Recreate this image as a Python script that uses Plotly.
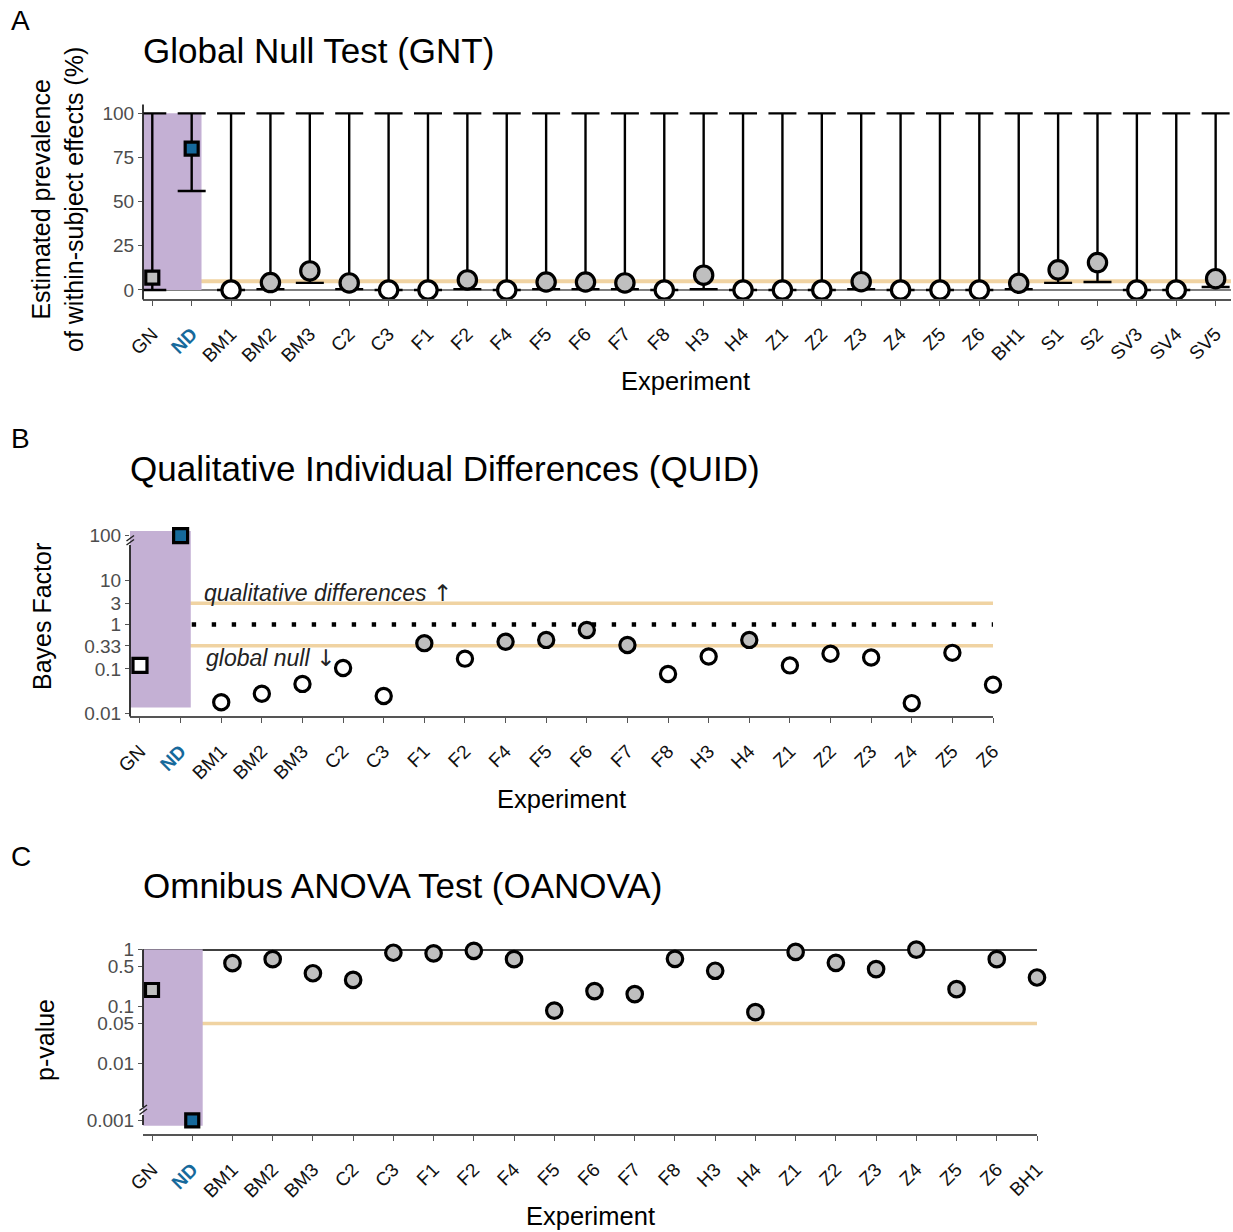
import plotly.graph_objects as go

W, H = 1233, 1232
FONT = "Liberation Sans, Arial, sans-serif"
BLUE = "#16699b"
PURPLE = "#c4b0d4"
ORANGE = "#f0d3a2"
GRAY = "#bfbfbf"

# ---------------- data ----------------
# Panel A: Global Null Test (prevalence %, with CI)
gnt_experiments = ["GN", "ND", "BM1", "BM2", "BM3", "C2", "C3", "F1", "F2", "F4", "F5", "F6", "F7",
                   "F8", "H3", "H4", "Z1", "Z2", "Z3", "Z4", "Z5", "Z6", "BH1", "S1", "S2", "SV3",
                   "SV4", "SV5"]
gnt_prevalence = [7, 80, 0, 4.2, 10.8, 4, 0, 0, 5.7, 0, 4.5, 4.5, 4, 0, 8.4, 0, 0, 0, 4.7, 0, 0, 0,
                  3.8, 11.4, 15.5, 0, 0, 6.4]
gnt_lower = [0, 56, 0, 0.5, 4, 0.5, 0, 0, 0.5, 0, 0.5, 0.5, 0.5, 0, 0.5, 0, 0, 0, 0.5, 0, 0, 0,
             0.5, 4, 4.5, 0, 0, 1.7]
gnt_upper = [100, 100, 100, 100, 100, 100, 100, 100, 100, 100, 100, 100, 100, 100, 100, 100, 100,
             100, 100, 100, 100, 100, 100, 100, 100, 100, 100, 100]
gnt_threshold = 5
gnt_yticks = [0, 25, 50, 75, 100]

# Panel B: QUID Bayes factors
quid_experiments = ["GN", "ND", "BM1", "BM2", "BM3", "C2", "C3", "F1", "F2", "F4", "F5", "F6", "F7",
                    "F8", "H3", "H4", "Z1", "Z2", "Z3", "Z4", "Z5", "Z6"]
quid_bf = [0.12, 100, 0.0177, 0.0276, 0.046, 0.105, 0.0245, 0.38, 0.17, 0.41, 0.45, 0.75, 0.345,
           0.077, 0.19, 0.45, 0.12, 0.22, 0.18, 0.017, 0.23, 0.044]
quid_upper_bound = 3
quid_lower_bound = 0.33
quid_neutral = 1
quid_yticks = [100, 10, 3, 1, 0.33, 0.1, 0.01]
quid_yticklabels = ["100", "10", "3", "1", "0.33", "0.1", "0.01"]

# Panel C: Omnibus ANOVA p-values
oanova_experiments = ["GN", "ND", "BM1", "BM2", "BM3", "C2", "C3", "F1", "F2", "F4", "F5", "F6",
                      "F7", "F8", "H3", "H4", "Z1", "Z2", "Z3", "Z4", "Z5", "Z6", "BH1"]
oanova_p = [0.193, 0.001, 0.57, 0.67, 0.38, 0.29, 0.87, 0.85, 0.94, 0.67, 0.084, 0.185, 0.164,
            0.68, 0.42, 0.079, 0.90, 0.58, 0.45, 0.99, 0.20, 0.67, 0.32]
oanova_alpha = 0.05
oanova_yticks = [1, 0.5, 0.1, 0.05, 0.01, 0.001]
oanova_yticklabels = ["1", "0.5", "0.1", "0.05", "0.01", "0.001"]

reference_experiments = ["GN", "ND"]


# ---------------- helpers ----------------
def px(x):
    return x / W


def py(y):
    return 1 - y / H


def ticktext(cats):
    out = []
    for c in cats:
        if c == "ND":
            out.append("<span style='color:%s'><b>ND</b></span>" % BLUE)
        else:
            out.append(c)
    return out


def styles(cats, vals, is_gray, sq, circ):
    sym, col, size = [], [], []
    for c, v in zip(cats, vals):
        if c in reference_experiments:
            sym.append("square")
            size.append(sq)
        else:
            sym.append("circle")
            size.append(circ)
        if c == "ND":
            col.append(BLUE)
        else:
            col.append(GRAY if is_gray(v) else "white")
    return sym, col, size


fig = go.Figure()

# ---------------- Panel A ----------------
symA, colA, sizeA = styles(gnt_experiments, gnt_prevalence, lambda v: v > 0, 13, 18.3)
fig.add_trace(go.Scatter(
    x=gnt_experiments, y=gnt_prevalence, mode="markers", xaxis="x", yaxis="y",
    error_y=dict(type="data", symmetric=False,
                 array=[u - v for u, v in zip(gnt_upper, gnt_prevalence)],
                 arrayminus=[v - l for v, l in zip(gnt_prevalence, gnt_lower)],
                 color="black", thickness=2.4, width=14),
    marker=dict(symbol=symA, color=colA, size=sizeA, opacity=1,
                line=dict(color="black", width=3.2)),
    cliponaxis=False, showlegend=False, hoverinfo="x+y"))

# ---------------- Panel B ----------------
symB, colB, sizeB = styles(quid_experiments, quid_bf, lambda v: v > 1 / 3, 14, 15.2)
fig.add_trace(go.Scatter(
    x=quid_experiments, y=quid_bf, mode="markers", xaxis="x2", yaxis="y2",
    marker=dict(symbol=symB, color=colB, size=sizeB, opacity=1,
                line=dict(color="black", width=3.2)),
    cliponaxis=False, showlegend=False, hoverinfo="x+y"))

# ---------------- Panel C ----------------
symC, colC, sizeC = styles(oanova_experiments, oanova_p, lambda v: True, 13, 15.5)
fig.add_trace(go.Scatter(
    x=oanova_experiments, y=oanova_p, mode="markers", xaxis="x3", yaxis="y3",
    marker=dict(symbol=symC, color=colC, size=sizeC, opacity=1,
                line=dict(color="black", width=3.2)),
    cliponaxis=False, showlegend=False, hoverinfo="x+y"))

# axis ranges / domains (pixel calibrated)
A_x = (143, 1231); A_y = (104.5, 298.8)
B_x = (130, 993); B_y = (530.3, 716)
C_x = (143, 1037); C_y = (949.3, 1134.3)
A_xr = [-0.236, 27.39]
B_xr = [-0.246, 21]
C_xr = [-0.224, 22]

tickfont_x = dict(family=FONT, size=19, color="#111111")
tickfont_y = dict(family=FONT, size=19, color="#4d4d4d")


def xaxis(dom, rng, cats):
    return dict(domain=[px(dom[0]), px(dom[1])], type="category", range=rng,
                categoryorder="array", categoryarray=cats,
                tickmode="array", tickvals=cats, ticktext=ticktext(cats),
                tickangle=-45, tickfont=tickfont_x, ticks="outside", ticklen=5,
                tickcolor="#555555", tickwidth=1.2, showline=True, linecolor="#555555",
                linewidth=1.6, showgrid=False, zeroline=False, ticklabelstandoff=10,
                fixedrange=True, automargin=False)


def yaxis(dom, rng, anchor, typ, vals, labels):
    return dict(domain=[py(dom[1]), py(dom[0])], type=typ, range=rng, anchor=anchor,
                tickmode="array", tickvals=vals, ticktext=labels, tickfont=tickfont_y,
                ticks="outside", ticklen=4, tickcolor="#555555", tickwidth=1.2,
                showline=False, showgrid=False, zeroline=False, fixedrange=True,
                automargin=False)


fig.update_layout(
    xaxis=dict(xaxis(A_x, A_xr, gnt_experiments), anchor="y"),
    yaxis=yaxis(A_y, [-5, 105], "x", "linear", gnt_yticks, [str(v) for v in gnt_yticks]),
    xaxis2=dict(xaxis(B_x, B_xr, quid_experiments), anchor="y2"),
    yaxis2=yaxis(B_y, [-2.06, 2.12], "x2", "log", quid_yticks, quid_yticklabels),
    xaxis3=dict(xaxis(C_x, C_xr, oanova_experiments), anchor="y3"),
    yaxis3=yaxis(C_y, [-3.246, 0], "x3", "log", oanova_yticks, oanova_yticklabels),
)

shapes = []
# purple reference regions
shapes.append(dict(type="rect", xref="x", yref="y", x0=A_xr[0], x1=1.25, y0=0, y1=100,
                   fillcolor=PURPLE, line=dict(width=0), layer="below"))
shapes.append(dict(type="rect", xref="x2", yref="y2", x0=B_xr[0], x1=1.25, y0=0.0136, y1=127,
                   fillcolor=PURPLE, line=dict(width=0), layer="below"))
shapes.append(dict(type="rect", xref="x3", yref="y3", x0=C_xr[0], x1=1.26, y0=0.0008, y1=1,
                   fillcolor=PURPLE, line=dict(width=0), layer="below"))
# Panel A lines
shapes.append(dict(type="line", xref="x domain", yref="y", x0=0, x1=1, y0=gnt_threshold,
                   y1=gnt_threshold, line=dict(color=ORANGE, width=4), layer="below"))
shapes.append(dict(type="line", xref="x domain", yref="y", x0=0, x1=1, y0=0, y1=0,
                   line=dict(color="#555555", width=1.6), layer="below"))
# Panel B lines
for yv in (quid_upper_bound, quid_lower_bound):
    shapes.append(dict(type="line", xref="x2 domain", yref="y2", x0=0, x1=1, y0=yv, y1=yv,
                       line=dict(color=ORANGE, width=3.5), layer="below"))
shapes.append(dict(type="line", xref="x2 domain", yref="y2", x0=0.002, x1=1, y0=quid_neutral,
                   y1=quid_neutral, line=dict(color="black", width=4.4, dash="4.4px,15.6px"),
                   layer="below"))
# Panel C lines
shapes.append(dict(type="line", xref="x3 domain", yref="y3", x0=0, x1=1, y0=oanova_alpha,
                   y1=oanova_alpha, line=dict(color=ORANGE, width=3.5), layer="below"))
shapes.append(dict(type="line", xref="x3 domain", yref="y3", x0=0, x1=1, y0=1, y1=1,
                   line=dict(color="black", width=3), layer="below"))


def pline(x0, y0, x1, y1, color="#222222", width=1.8):
    shapes.append(dict(type="line", xref="paper", yref="paper", x0=px(x0), y0=py(y0),
                       x1=px(x1), y1=py(y1), line=dict(color=color, width=width)))


# y-axis lines (with breaks)
pline(143, 104.5, 143, 299.5)
pline(130, 545, 130, 716.5)
pline(126.5, 545, 134, 539.5, width=1.5)
pline(126.5, 541, 134, 535.5, width=1.5)
pline(143, 949.3, 143, 1107)
pline(143, 1115, 143, 1125)
pline(139.5, 1110.5, 147, 1105, width=1.5)
pline(139.5, 1114.5, 147, 1109, width=1.5)

annotations = []


def text(x, y, s, size, xanchor="left", angle=0, color="black", italic=False):
    if italic:
        s = "<i>%s</i>" % s
    annotations.append(dict(xref="paper", yref="paper", x=px(x), y=py(y), text=s,
                            showarrow=False, xanchor=xanchor, yanchor="middle",
                            textangle=angle, font=dict(family=FONT, size=size, color=color)))


ARROW = "<span style='font-family:DejaVu Sans;font-style:normal;color:#222222'>%s</span>"

text(9, 20, "A", 28)
text(9, 438, "B", 28)
text(9, 856, "C", 28)
text(141, 50, "Global Null Test (GNT)", 35)
text(128, 468, "Qualitative Individual Differences (QUID)", 35)
text(141, 886, "Omnibus ANOVA Test (OANOVA)", 35)
text(686, 381, "Experiment", 25.5, "center")
text(561, 799, "Experiment", 25.5, "center")
text(590, 1216, "Experiment", 25.5, "center")
text(57, 200, "Estimated prevalence<br>of within-subject effects (%)", 25, "center", -90)
text(42, 617, "Bayes Factor", 25, "center", -90)
text(45, 1040, "p-value", 25, "center", -90)
text(202, 593, "qualitative differences " + ARROW % "\u2191", 23, italic=True, color="#222222")
text(204, 658, "global null " + ARROW % "\u2193", 23, italic=True, color="#222222")

fig.update_layout(
    width=W, height=H, margin=dict(l=0, r=0, t=0, b=0, autoexpand=False),
    paper_bgcolor="white", plot_bgcolor="rgba(0,0,0,0)",
    shapes=shapes, annotations=annotations, font=dict(family=FONT),
    showlegend=False,
)

fig.write_html(
    "out.html",
    config={"displayModeBar": False},
    post_script="document.body.style.margin='0';document.body.style.padding='0';"
                "document.documentElement.style.overflow='hidden';",
)
